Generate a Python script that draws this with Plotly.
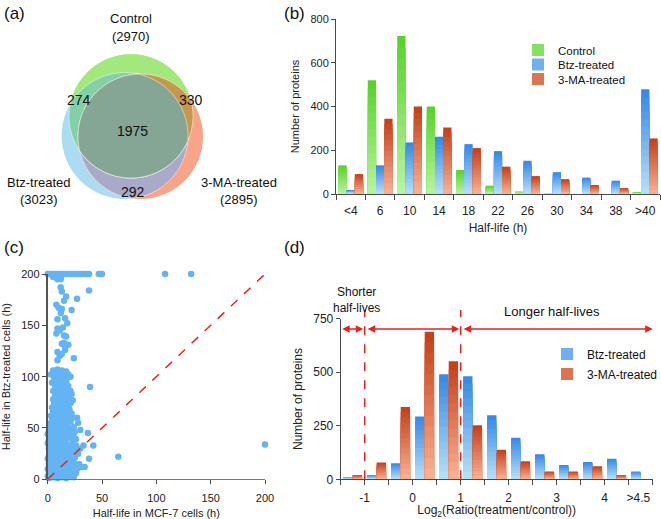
import numpy as np
import plotly.graph_objects as go

# ---------------- data ----------------
venn_names = ["Control", "Btz-treated", "3-MA-treated"]
venn_totals = [2970, 3023, 2895]
venn_ctrl_btz = 274
venn_ctrl_ma = 330
venn_btz_ma = 292
venn_all = 1975

hl_bins = ['<4', '6', '10', '14', '18', '22', '26', '30', '34', '38', '>40']
hl_control = [131, 520, 722, 400, 110, 38, 11, 2, 0, 0, 6]
hl_btz = [18, 131, 236, 262, 228, 196, 152, 100, 75, 61, 479]
hl_ma = [91, 344, 400, 304, 210, 125, 82, 68, 41, 27, 254]

ratio_bin_centers = [-1.25, -0.75, -0.25, 0.25, 0.75, 1.25, 1.75, 2.25, 2.75, 3.25, 3.75, 4.25, 4.75]
ratio_btz = [9, 19, 75, 293, 490, 481, 299, 194, 117, 67, 81, 96, 37]
ratio_ma = [19, 79, 338, 689, 551, 252, 138, 84, 37, 37, 61, 19, 0]
ratio_tickvals = [-1, 0, 1, 2, 3, 4, 4.7]
ratio_ticktext = ['-1', '0', '1', '2', '3', '4', '>4.5']

# half-life pairs (MCF-7, Btz-treated)
scatter_dense = [
    (1,1),(5,2),(9,1),(13,2),(17,1),(21,3),(24,2),
    (2,4),(7,5),(11,4),(15,5),(19,4),(23,5),(26,6),
    (1,8),(4,7),(8,8),(12,7),(16,8),(20,7),(24,9),(27,10),
    (2,11),(6,12),(10,11),(14,12),(18,11),(22,12),(26,13),
    (1,15),(4,14),(8,15),(12,16),(16,15),(20,14),(24,16),
    (2,18),(6,19),(10,18),(14,19),(18,18),(22,20),(25,21),
    (1,22),(4,23),(8,22),(12,23),(16,22),(20,24),(24,24),
    (2,26),(6,27),(10,26),(14,27),(18,26),(22,28),(27,27),
    (1,30),(4,31),(8,30),(12,31),(16,30),(21,31),(25,30),
    (2,34),(6,35),(10,34),(14,35),(18,34),(23,35),
    (1,38),(4,39),(8,38),(12,39),(16,38),(20,40),(26,39),
    (2,42),(6,43),(10,42),(14,43),(18,42),(22,44),
    (1,46),(5,47),(9,46),(13,47),(17,46),(21,47),(25,46),
    (3,50),(7,51),(11,50),(15,51),(19,50),(24,51),
    (2,54),(5,55),(9,54),(13,55),(17,54),(21,56),
    (4,58),(8,59),(12,58),(16,59),(20,58),(23,60),
    (0,3),(0,10),(0,20),(0,35),(0,44),
]
scatter_upper = [
    (3,62),(6,63),(10,62),(14,63),(18,62),(22,64),
    (5,66),(9,67),(13,66),(17,67),(20,68),
    (4,70),(7,71),(11,70),(15,71),(19,70),
    (6,74),(10,75),(14,74),(18,75),(21,74),
    (5,78),(9,79),(13,78),(16,79),(20,78),
    (7,82),(11,83),(15,82),(19,83),
    (5,86),(9,87),(13,86),(17,87),(21,86),
    (7,90),(11,91),(15,90),(19,91),
    (4,94),(9,95),(13,94),(17,95),
    (6,98),(10,99),(14,98),(18,99),(21,100),
    (3,102),(7,103),(11,102),(15,103),(19,102),
    (5,106),(9,107),(13,106),(17,105),
]
scatter_sparse = [
    (12,195),(12,187),(13,183),(17,178),(15,174),(27,176),(38,184),
    (8,170),(10,167),(13,166),(12,162),(22,165),(9,156),(16,157),(18,152),
    (9,147),(11,145),(14,148),(8,142),(15,140),(17,139),
    (13,132),(15,133),(19,131),(16,129),(9,124),(11,120),(13,122),(16,126),
    (9,116),(24,118),(39,90),(22,83),(23,77),(27,60),(28,55),(30,48),
    (37,45),(25,40),(33,33),(26,33),(42,33),(30,30),(28,25),(38,20),
    (29,15),(31,12),(34,12),(20,3),(65,22),(200,34),
]
scatter_top = [
    (0,200),(1,200),(3,200),(5,200),(7,200),(9,200),(11,200),(13,200),
    (15,200),(17,200),(19,200),(21,200),(23,200),(25,200),(27,200),
    (29,200),(31,200),(34,200),(36,200),(38,200),(47,200),(49,200),
    (50,200),(108,200),(132,200),(5,197),(7,198),(12,197),(9,195),
]
scatter_points = scatter_dense + scatter_upper + scatter_sparse + scatter_top
mcf7_hl = [p[0] for p in scatter_points]
btz_hl = [p[1] for p in scatter_points]

# ---------------- style ----------------
FONT = "Liberation Sans, Arial, sans-serif"
AX = "#4a4a4a"
GREEN = ((185, 245, 160), (85, 210, 40))
BLUE = ((182, 226, 250), (50, 135, 230))
ORANGE = ((250, 178, 150), (195, 62, 22))
NSEG = 14


def seg_color(pair, k):
    lo, hi = pair
    t = (k + 0.5) / NSEG
    c = [round(lo[i] + (hi[i] - lo[i]) * t) for i in range(3)]
    return f"rgb({c[0]},{c[1]},{c[2]})"


fig = go.Figure()


def gradient_bars(x, vals, name, pair, xa, ya, offset, width, legend):
    # tallest (darkest) first, then progressively shorter, lighter bars on top
    for k in range(NSEG - 1, -1, -1):
        fig.add_trace(go.Bar(
            x=x, y=[v * (k + 1) / NSEG for v in vals],
            offset=offset, width=width, xaxis=xa, yaxis=ya,
            marker=dict(color=seg_color(pair, k), line=dict(width=0)),
            name=name, showlegend=(k == NSEG // 2),
            legend=legend, hoverinfo='skip'))


# panel (b)
gradient_bars(hl_bins, hl_control, "Control", GREEN, 'x', 'y', -0.42, 0.28, 'legend')
gradient_bars(hl_bins, hl_btz, "Btz-treated", BLUE, 'x', 'y', -0.14, 0.28, 'legend3')
gradient_bars(hl_bins, hl_ma, "3-MA-treated", ORANGE, 'x', 'y', 0.14, 0.28, 'legend4')

# panel (d)
gradient_bars(ratio_bin_centers, ratio_btz, "Btz-treated", BLUE, 'x3', 'y3', -0.2, 0.195, 'legend2')
gradient_bars(ratio_bin_centers, ratio_ma, "3-MA-treated", ORANGE, 'x3', 'y3', 0.0, 0.195, 'legend5')

# panel (c)
fig.add_trace(go.Scatter(
    x=mcf7_hl, y=btz_hl, mode='markers', xaxis='x2', yaxis='y2',
    marker=dict(size=6.5, color='rgb(100,180,243)'), cliponaxis=False,
    showlegend=False, hoverinfo='skip'))

# ---------------- Venn (panel a) ----------------
circ_btz = (124.8, 135.8, 63.2)
circ_ma = (140.5, 136.5, 62.5)
circ_ctrl = (131.0, 116.0, 62.0)


def circle_pts(cx, cy, r, n=1440):
    t = np.linspace(0, 2 * np.pi, n, endpoint=False)
    return np.c_[cx + r * np.cos(t), cy + r * np.sin(t)]


def inside(p, c):
    return (p[:, 0] - c[0]) ** 2 + (p[:, 1] - c[1]) ** 2 <= c[2] ** 2 + 1e-6


def intersection_path(circles):
    pts = []
    for i, c in enumerate(circles):
        p = circle_pts(*c)
        mask = np.ones(len(p), bool)
        for j, d in enumerate(circles):
            if j != i:
                mask &= inside(p, d)
        pts.append(p[mask])
    pts = np.vstack(pts)
    ctr = pts.mean(axis=0)
    ang = np.arctan2(pts[:, 1] - ctr[1], pts[:, 0] - ctr[0])
    pts = pts[np.argsort(ang)]
    return 'M ' + ' L '.join(f'{a:.2f},{b:.2f}' for a, b in pts) + ' Z'


shapes = []
for c, col in [(circ_btz, '#acdcf2'), (circ_ma, '#f9a388'), (circ_ctrl, '#a3e87c')]:
    shapes.append(dict(type='circle', xref='x4', yref='y4', x0=c[0] - c[2], x1=c[0] + c[2],
                       y0=c[1] - c[2], y1=c[1] + c[2], fillcolor=col, line=dict(width=0), layer='below'))
for circs, col in [((circ_btz, circ_ma), '#a9a9c9'), ((circ_ctrl, circ_btz), '#84cfa6'),
                   ((circ_ctrl, circ_ma), '#c8974c'), ((circ_ctrl, circ_btz, circ_ma), '#85a694')]:
    shapes.append(dict(type='path', xref='x4', yref='y4', path=intersection_path(circs),
                       fillcolor=col, line=dict(width=0.8, color='rgba(255,255,255,0.7)'), layer='below'))

# diagonal in (c)
shapes.append(dict(type='line', xref='x2', yref='y2', x0=0, y0=0, x1=200, y1=200,
                   line=dict(color='#e8231e', width=1.5, dash='dash')))
# vertical dashed thresholds in (d)
for xv in (-1, 1):
    shapes.append(dict(type='line', xref='x3', yref='paper', x0=xv, x1=xv,
                       y0=0.0765, y1=1 - 310 / 519,
                       line=dict(color='#e8231e', width=1.5, dash='dash')))

ann = []


def txt(x, y, s, size=13, xref='x4', yref='y4', **kw):
    ann.append(dict(x=x, y=y, xref=xref, yref=yref, text=s, showarrow=False,
                    xanchor='center', yanchor='middle',
                    font=dict(size=size, color='#111', family=FONT), **kw))


txt(130.5, 18, venn_names[0])
txt(130.5, 36, f"({venn_totals[0]})")
txt(39, 182, venn_names[1])
txt(39, 199, f"({venn_totals[1]})")
txt(239, 182, venn_names[2])
txt(239, 199, f"({venn_totals[2]})")
txt(79, 100, str(venn_ctrl_btz), size=14)
txt(191, 100, str(venn_ctrl_ma), size=14)
txt(132, 131, str(venn_all), size=14)
txt(133, 192, str(venn_btz_ma), size=14)


def ptxt(xpx, ypx, s, size, **kw):
    ann.append(dict(x=xpx / 661, y=1 - ypx / 519, xref='paper', yref='paper', text=s,
                    showarrow=False, xanchor='center', yanchor='middle',
                    font=dict(size=size, color='#111', family=FONT), **kw))


# panel letters
for s, x, y in [("(a)", 14, 13), ("(b)", 294, 13), ("(c)", 14, 247), ("(d)", 294, 247)]:
    ptxt(x, y, s, 17)

# panel (d) annotations
ptxt(356, 300, "Shorter<br>half-lives", 12, align='center')
ptxt(552, 311, "Longer half-lives", 13)
for x0, x1 in [(-1.5, -1.03), (-0.97, 0.97), (1.03, 5.0)]:
    ann.append(dict(x=x1, y=702, ax=x0, ay=702, xref='x3', yref='y3', axref='x3', ayref='y3',
                    text='', showarrow=True, arrowhead=2, arrowside='end+start', arrowsize=1,
                    arrowwidth=1.5, arrowcolor='#e8231e'))

tickf = dict(size=11, color='#222', family=FONT)
titlef = dict(size=11, color='#222', family=FONT)


def leg(xpx, ypx, size):
    return dict(x=xpx / 661, y=1 - ypx / 519, xanchor='left', yanchor='middle',
                font=dict(size=size, color='#111', family=FONT), itemwidth=30,
                bgcolor='rgba(0,0,0,0)', borderwidth=0)


fig.update_layout(
    width=661, height=519, autosize=False,
    margin=dict(l=0, r=0, t=0, b=0, autoexpand=False),
    paper_bgcolor='white', plot_bgcolor='rgba(0,0,0,0)',
    font=dict(family=FONT, color='#222'),
    barmode='overlay',
    shapes=shapes, annotations=ann,
    legend=leg(518, 50, 11.5),
    legend3=leg(518, 64.5, 11.5),
    legend4=leg(518, 79, 11.5),
    legend2=leg(547, 354, 12),
    legend5=leg(547, 374, 12),
    xaxis=dict(domain=[336 / 661, 660 / 661], anchor='y', type='category',
               categoryorder='array', categoryarray=hl_bins, range=[-0.5, 10.5],
               tickson='boundaries', ticks='outside', ticklen=5, tickcolor=AX, tickangle=0,
               ticklabelstandoff=6,
               showline=True, linecolor=AX, showgrid=False, tickfont=dict(size=12, color='#222', family=FONT),
               title=dict(text='Half-life (h)', font=dict(size=12, color='#222', family=FONT), standoff=6)),
    yaxis=dict(domain=[1 - 194 / 519, 1 - 19 / 519], anchor='x', range=[0, 800], dtick=200,
               ticks='outside', ticklen=4, tickcolor=AX, showline=True, linecolor=AX,
               showgrid=False, zeroline=False, tickfont=tickf,
               title=dict(text='Number of proteins', font=titlef, standoff=8)),
    xaxis2=dict(domain=[47.7 / 661, 265 / 661], anchor='y2', range=[0, 200], dtick=50,
                ticks='outside', ticklen=4, tickcolor=AX, showline=True, linecolor='#777',
                ticklabelstandoff=4,
                showgrid=False, zeroline=False, tickfont=tickf,
                title=dict(text='Half-life in MCF-7 cells (h)', font=titlef, standoff=10)),
    yaxis2=dict(domain=[1 - 479.3 / 519, 1 - 274 / 519], anchor='x2', range=[0, 200], dtick=50,
                ticks='outside', ticklen=4, tickcolor=AX, showline=True, linecolor='#555', linewidth=2,
                showgrid=False, zeroline=False, tickfont=tickf,
                title=dict(text='Half-life in Btz-treated cells (h)', font=titlef, standoff=10)),
    xaxis3=dict(domain=[340.7 / 661, 652.7 / 661], anchor='y3', range=[-1.5, 5.0],
                tickvals=ratio_tickvals, ticktext=ratio_ticktext, ticks='', ticklabelstandoff=7,
                minor=dict(ticks='outside', tick0=-1.5, dtick=0.5, ticklen=5, tickcolor=AX, showgrid=False),
                showline=True, linecolor=AX, showgrid=False, zeroline=False,
                tickfont=dict(size=12, color='#222', family=FONT),
                title=dict(text='Log<sub>2</sub>(Ratio(treatment/control))',
                           font=dict(size=12, color='#222', family=FONT), standoff=2)),
    yaxis3=dict(domain=[1 - 479.3 / 519, 1 - 318.7 / 519], anchor='x3', range=[0, 750],
                tickvals=[0, 250, 500, 750], ticks='outside', ticklen=4, tickcolor=AX,
                showline=True, linecolor=AX, showgrid=False, zeroline=False,
                tickfont=dict(size=12, color='#222', family=FONT),
                title=dict(text='Number of proteins', font=dict(size=12, color='#222', family=FONT), standoff=8)),
    xaxis4=dict(domain=[0, 0.45], anchor='y4', range=[0, 0.45 * 661], visible=False, fixedrange=True),
    yaxis4=dict(domain=[0.55, 1.0], anchor='x4', range=[0.45 * 519, 0], visible=False, fixedrange=True),
)

fig.write_html("out.html")
